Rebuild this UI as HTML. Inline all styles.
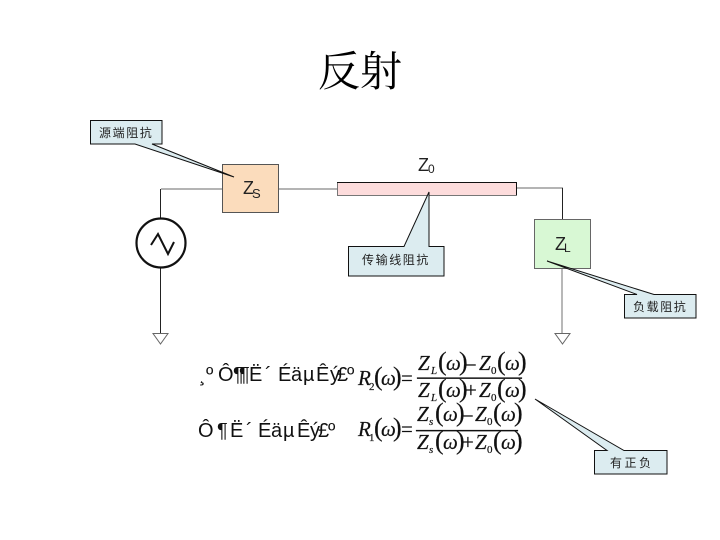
<!DOCTYPE html>
<html><head><meta charset="utf-8"><style>
html,body{margin:0;padding:0;background:#fff;width:720px;height:540px;overflow:hidden}
svg{display:block}
.cn{font-family:"Liberation Sans","Noto Sans CJK SC",sans-serif;font-size:12px;fill:#222;letter-spacing:1.6px}
.z{font-family:"Liberation Sans",sans-serif;fill:#222}
.g{font-family:"Liberation Sans",sans-serif;font-size:20px;fill:#111}
.m{font-family:"Liberation Serif",serif;font-size:21px;fill:#111;stroke:#111;stroke-width:.2px}
.i{font-style:italic}
.s{font-size:11px}
.p{font-size:26px;font-weight:normal}
</style></head><body>
<svg width="720" height="540" viewBox="0 0 720 540" xmlns="http://www.w3.org/2000/svg">
<text x="360" y="86" text-anchor="middle" font-family="'Liberation Serif','Noto Serif CJK SC',serif" font-size="42" fill="#000">反射</text>

<g fill="none" stroke="#888" stroke-width="1.2">
<path d="M161 189H222M279 189H337M517 188H563"/>
<path d="M562 269V333"/>
</g>
<g fill="none" stroke="#222" stroke-width="1">
<path d="M160.5 189V219M160.5 268V333M562.5 188V219"/>
</g>
<rect x="222.500" y="164.500" width="56" height="48" fill="#fbdcbc" stroke="#555"/>
<rect x="337.500" y="182.500" width="179" height="13" fill="#fddcdc" stroke="#777"/>
<path d="M337 182.500H517M516.500 182V195" stroke="#111" fill="none"/>
<rect x="534.500" y="219.500" width="56" height="49" fill="#d8f8d4" stroke="#666"/>

<circle cx="161" cy="243" r="24.500" fill="#fff" stroke="#111" stroke-width="2.200"/>
<path d="M151 245L158 234L168 254L174 242" fill="none" stroke="#111" stroke-width="2"/>
<path d="M153 333.500H168L160.500 344Z" fill="#fff" stroke="#666"/>
<path d="M555 333.500H570L562.500 344Z" fill="#fff" stroke="#666"/>

<text x="243" y="194" class="z" font-size="18">Z</text><text x="252" y="198" class="z" font-size="13">S</text>
<text x="418" y="171" class="z" font-size="18">Z</text><text x="428" y="173" class="z" font-size="12">0</text>
<text x="555" y="250" class="z" font-size="18">Z</text><text x="564" y="252" class="z" font-size="12">L</text>

<g fill="#dcecf0" stroke="#111" stroke-width="1">
<path d="M90.500 120.500H162V144H152L234 177L135 144H90.500Z"/>
<path d="M348.500 246.500H404L429 192V246.500H444V276H348.500Z"/>
<path d="M624.500 294.500H637L547 261L654 294.500H696V318H624.500Z"/>
<path d="M594.500 450.500H607L535 399L624 450.500H667V474H594.500Z"/>
</g>
<text x="99" y="137" class="cn">源端阻抗</text>
<text x="362" y="264" class="cn">传输线阻抗</text>
<text x="633" y="311" class="cn">负载阻抗</text>
<text x="610" y="467" class="cn" style="letter-spacing:2.500px">有正负</text>

<g class="g">
<text x="199" y="381">¸</text><text x="206" y="381">º</text>
<text x="218" y="381">Ô</text><text x="233" y="381">¶</text><text x="239" y="381">¶</text><text x="249" y="381">Ë</text><text x="265" y="381">´</text>
<text x="278" y="381">É</text><text x="291" y="381">ä</text><text x="303" y="381">µ</text><text x="316" y="381">Ê</text><text x="330" y="381">ý</text><text x="337" y="381">£</text><text x="347" y="381">º</text>
<text x="198" y="437">Ô</text><text x="217" y="437">¶</text><text x="230" y="437">Ë</text><text x="246" y="437">´</text>
<text x="258" y="437">É</text><text x="271" y="437">ä</text><text x="283" y="437">µ</text><text x="297" y="437">Ê</text><text x="310" y="437">ý</text><text x="318" y="437">£</text><text x="328" y="437">º</text>
</g>

<g class="m">
<text x="358" y="385" class="i">R</text><text x="369" y="390" class="s">2</text>
<text x="374" y="385" class="p">(</text><text x="381" y="385" class="i">ω</text><text x="393" y="385" class="p">)</text><text x="401" y="385">=</text>
<text x="418" y="370" class="i">Z</text><text x="431" y="374" class="s i">L</text><text x="438" y="370" class="p">(</text><text x="446" y="370" class="i">ω</text><text x="459" y="370" class="p">)</text><text x="465" y="370">–</text><text x="479" y="370" class="i">Z</text><text x="491" y="374" class="s">0</text><text x="497" y="370" class="p">(</text><text x="505" y="370" class="i">ω</text><text x="518" y="370" class="p">)</text>
<text x="418" y="397" class="i">Z</text><text x="431" y="401" class="s i">L</text><text x="438" y="397" class="p">(</text><text x="446" y="397" class="i">ω</text><text x="459" y="397" class="p">)</text><text x="465" y="397">+</text><text x="479" y="397" class="i">Z</text><text x="491" y="401" class="s">0</text><text x="497" y="397" class="p">(</text><text x="505" y="397" class="i">ω</text><text x="518" y="397" class="p">)</text>
<rect x="417" y="377.500" width="105" height="1.300" fill="#111"/>

<text x="358" y="436" class="i">R</text><text x="369" y="441" class="s">1</text>
<text x="374" y="436" class="p">(</text><text x="381" y="436" class="i">ω</text><text x="393" y="436" class="p">)</text><text x="401" y="436">=</text>
<text x="417" y="421" class="i">Z</text><text x="429" y="425" class="s i">s</text><text x="435" y="421" class="p">(</text><text x="443" y="421" class="i">ω</text><text x="456" y="421" class="p">)</text><text x="462" y="421">–</text><text x="475" y="421" class="i">Z</text><text x="487" y="425" class="s">0</text><text x="493" y="421" class="p">(</text><text x="501" y="421" class="i">ω</text><text x="514" y="421" class="p">)</text>
<text x="417" y="449" class="i">Z</text><text x="429" y="453" class="s i">s</text><text x="435" y="449" class="p">(</text><text x="443" y="449" class="i">ω</text><text x="456" y="449" class="p">)</text><text x="462" y="449">+</text><text x="475" y="449" class="i">Z</text><text x="487" y="453" class="s">0</text><text x="493" y="449" class="p">(</text><text x="501" y="449" class="i">ω</text><text x="514" y="449" class="p">)</text>
<rect x="416" y="430" width="102" height="1.300" fill="#111"/>
</g>
</svg>
</body></html>
